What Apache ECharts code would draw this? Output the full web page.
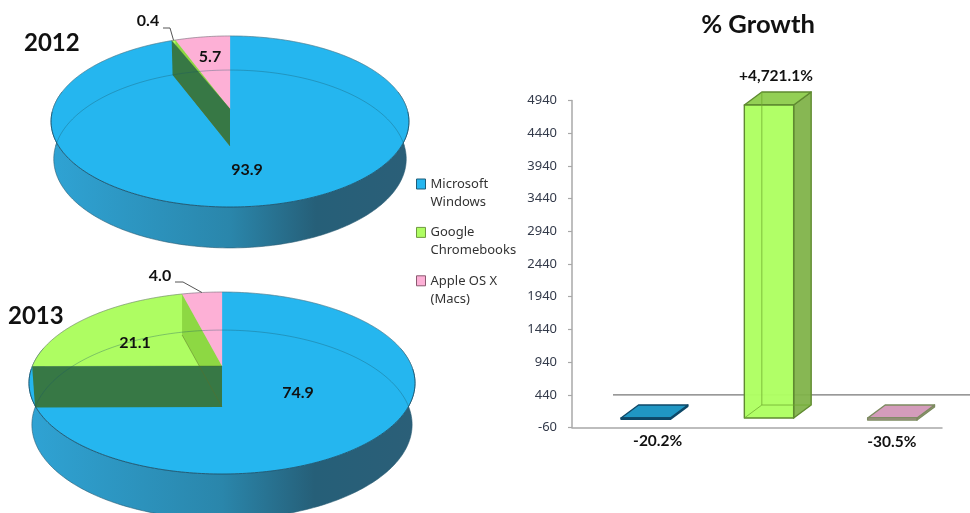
<!DOCTYPE html>
<html>
<head>
<meta charset="utf-8">
<style>html,body{margin:0;padding:0;background:#fff}#c{width:970px;height:513px}</style>
<script src="https://cdn.jsdelivr.net/npm/echarts@6/dist/echarts.min.js"></script>
</head>
<body>
<div id="c"></div>
<script>
// ---- data ----
var years = ['2012', '2013'];
var osNames = ['Microsoft\nWindows', 'Google\nChromebooks', 'Apple OS X\n(Macs)'];
var windowsShare = [93.9, 74.9];
var chromeShare = [0.4, 21.1];
var appleShare = [5.7, 4.0];
var growthCategories = ['Microsoft Windows', 'Google Chromebooks', 'Apple OS X (Macs)'];
var growthValues = [-20.2, 4721.1, -30.5];
var growthLabels = ['-20.2%', '+4,721.1%', '-30.5%'];
var tickLabels = [-60, 440, 940, 1440, 1940, 2440, 2940, 3440, 3940, 4440, 4940];
var referenceLineValue = [440];

// ---- styling / layout ----
var FONT = 'Lato, "Open Sans", sans-serif';
var BLUE = '#25b6ef', GREEN = '#aefd62', PINK = '#fdb0d6';
var pieLayouts = [
  {cx: 230, cy: 109, R: 177, S: 83.7, k: 0.146, depth: 37,
   labels: [[247, 170], [148, 21], [210, 57]], leader: [[163, 28], [170, 28]], leaderOs: 1},
  {cx: 222, cy: 366, R: 189.6, S: 87.8, k: 0.187, depth: 41,
   labels: [[298, 393], [135, 343], [160, 276]], leader: [[175, 282], [183, 282]], leaderOs: 2}
];
var shares = [windowsShare, chromeShare, appleShare];
var BX = 0.985, BY = 1.04;
var barLabelShift = [24, 19, 11.5];

function proj(L, deg, bottom) {
  var t = deg * Math.PI / 180, u = Math.sin(t), v = -Math.cos(t), w = 1 - L.k * v;
  if (bottom) return [L.cx + BX * L.R * u / w, L.cy + L.depth + BY * L.S * v / w];
  return [L.cx + L.R * u / w, L.cy + L.S * v / w];
}
function arc(L, a, b, bottom) {
  var pts = [], n = Math.max(2, Math.ceil(Math.abs(b - a)));
  for (var i = 0; i <= n; i++) pts.push(proj(L, a + (b - a) * i / n, bottom));
  return pts;
}
function startAngle(os, p) {
  var s = 0;
  for (var i = 0; i < os; i++) s += shares[i][p];
  return s * 3.6;
}
function sliceSeries(os, color) {
  return {
    type: 'custom', name: osNames[os], coordinateSystem: 'none', silent: true, z: 2,
    data: years.map(function (y, p) { return [p, shares[os][p]]; }),
    renderItem: function (params, api) {
      var p = api.value(0), L = pieLayouts[p], a = startAngle(os, p), b = a + api.value(1) * 3.6;
      return {type: 'polygon', shape: {points: [[L.cx, L.cy]].concat(arc(L, a, b))},
        style: {fill: color, stroke: color, lineWidth: 0.3}};
    }
  };
}
var rimSeries = {
  type: 'custom', coordinateSystem: 'none', silent: true, z: 1,
  data: years.map(function (y, p) { return [p]; }),
  renderItem: function (params, api) {
    var L = pieLayouts[api.value(0)];
    return {type: 'polygon',
      shape: {points: arc(L, 78, 282).concat(arc(L, 282, 78, true))},
      style: {fill: new echarts.graphic.LinearGradient(1, 0, 0, 0, [
        {offset: 0, color: '#2b5f78'}, {offset: 0.26, color: '#265f78'},
        {offset: 0.5, color: '#2a86ab'}, {offset: 1, color: '#2fa3d4'}]),
        stroke: '#2a5c74', lineWidth: 0.6}};
  }
};
var wallSeries = {
  type: 'custom', coordinateSystem: 'none', silent: true, z: 3,
  data: years.map(function (y, p) { return [p, windowsShare[p], chromeShare[p]]; }),
  renderItem: function (params, api) {
    var L = pieLayouts[api.value(0)];
    var a1 = api.value(1) * 3.6, a2 = a1 + api.value(2) * 3.6;
    var apexT = [L.cx, L.cy], apexB = [L.cx, L.cy + L.depth];
    var kids = [];
    function wallB(a) { return [proj(L, a)[0] , proj(L, a)[1] + L.depth]; }
    kids.push({type: 'polygon', shape: {points: [proj(L, a2), apexT, apexB, wallB(a2)]},
      style: {fill: 'rgba(95,165,25,0.42)'}});
    kids.push({type: 'polygon', shape: {points: [proj(L, a1), apexT, apexB, proj(L, a1, true)]},
      style: {fill: '#377845'}});
    kids.push({type: 'polyline', shape: {points: [wallB(a2), apexB]},
      style: {fill: null, stroke: 'rgba(90,110,40,0.6)', lineWidth: 0.8}});
    kids.push({type: 'polyline', shape: {points: [apexT, proj(L, a1)]},
      style: {fill: null, stroke: 'rgba(60,100,40,0.5)', lineWidth: 0.8}});
    // far edge of the base seen through the disc
    kids.push({type: 'polyline', shape: {points: arc(L, -90, 90, true)},
      style: {fill: null, stroke: 'rgba(25,85,100,0.38)', lineWidth: 0.9}});
    // outline of the top face
    kids.push({type: 'polyline', shape: {points: arc(L, 92, 268)},
      style: {fill: null, stroke: '#1f4a60', lineWidth: 0.8}});
    kids.push({type: 'polyline', shape: {points: arc(L, -92, 92)},
      style: {fill: null, stroke: 'rgba(90,100,105,0.7)', lineWidth: 0.7}});
    return {type: 'group', children: kids};
  }
};
var pieLabelSeries = {
  type: 'custom', coordinateSystem: 'none', silent: true, z: 5,
  data: years.map(function (y, p) { return [p]; }),
  renderItem: function (params, api) {
    var p = api.value(0), L = pieLayouts[p], kids = [];
    shares.forEach(function (arr, os) {
      kids.push({type: 'text', style: {text: arr[p].toFixed(1), x: L.labels[os][0], y: L.labels[os][1],
        fill: '#111', font: 'bold 16px ' + FONT, align: 'center', verticalAlign: 'middle'}});
    });
    var mid = startAngle(L.leaderOs, p) + shares[L.leaderOs][p] * 1.8;
    kids.push({type: 'polyline', shape: {points: L.leader.concat([proj(L, mid)])},
      style: {fill: null, stroke: '#555', lineWidth: 1}});
    return {type: 'group', children: kids};
  }
};

// ---- 3D bars ----
var barStyles = [
  {front: '#2097c4', side: '#1a6f92', top: '#2097c4', line: '#0e4868', inner: 'rgba(14,72,104,0)'},
  {front: 'rgba(174,255,98,0.97)', side: 'rgba(127,178,72,0.94)', top: '#93cf55', line: '#5f8a30', inner: 'rgba(110,170,45,0.75)'},
  {front: '#d49cbb', side: '#a9a07f', top: '#d49cbb', line: '#7c8a60', inner: 'rgba(124,138,96,0)'}
];
var DX = 17.5, DY = -13, SHIFT = 12;
var barSeries = {
  type: 'custom', silent: true, xAxisIndex: 0, yAxisIndex: 1, z: 4, clip: false,
  encode: {x: 0, y: 1},
  data: growthCategories.map(function (c, i) { return [i, growthValues[i]]; }),
  renderItem: function (params, api) {
    var i = api.value(0), v = api.value(1), s = barStyles[i];
    var c0 = api.coord([i, 0]), c1 = api.coord([i, v]);
    var hw = api.size([1, 0])[0] * 0.2;
    var l = c0[0] + SHIFT - hw, r = c0[0] + SHIFT + hw;
    var top = Math.min(c0[1], c1[1]), bot = Math.max(c0[1], c1[1]);
    var st = function (fill) { return {fill: fill, stroke: s.line, lineWidth: 1.4, lineJoin: 'round'}; };
    var inner = function (pts) {
      return {type: 'polyline', shape: {points: pts}, style: {fill: null, stroke: s.inner, lineWidth: 1}};
    };
    return {type: 'group', children: [
      {type: 'polygon', shape: {points: [[r, top], [r + DX, top + DY], [r + DX, bot + DY], [r, bot]]}, style: st(s.side)},
      {type: 'polygon', shape: {points: [[l, top], [l + DX, top + DY], [r + DX, top + DY], [r, top]]}, style: st(s.top)},
      {type: 'polygon', shape: {points: [[l, top], [r, top], [r, bot], [l, bot]]}, style: st(s.front)},
      inner([[l + DX, top + DY], [l + DX, bot + DY], [r + DX, bot + DY]]),
      inner([[l, bot], [l + DX, bot + DY]])
    ]};
  }
};
var refLineSeries = {
  type: 'custom', silent: true, xAxisIndex: 0, yAxisIndex: 0, z: 3, clip: false,
  encode: {y: 1},
  data: referenceLineValue.map(function (v) { return [0, v]; }),
  renderItem: function (params, api) {
    var y = api.coord([0, api.value(1)])[1];
    return {type: 'line', shape: {x1: 613, y1: y, x2: 970, y2: y},
      style: {stroke: '#777', lineWidth: 1.2}};
  }
};
var barLabelSeries = {
  type: 'custom', silent: true, xAxisIndex: 0, yAxisIndex: 1, z: 6, clip: false,
  encode: {x: 0, y: 1},
  data: growthCategories.map(function (c, i) { return [i, growthValues[i]]; }),
  renderItem: function (params, api) {
    var i = api.value(0), v = api.value(1), c = api.coord([i, v]);
    var up = v > 0;
    return {type: 'text', style: {text: growthLabels[i], x: c[0] + barLabelShift[i], y: up ? c[1] - 29 : c[1] + 22,
      fill: '#111', font: 'bold 15.5px ' + FONT, align: 'center', verticalAlign: 'middle'}};
  }
};

var titleStyle = {fontFamily: FONT, fontWeight: 'bold', fontSize: 24, color: '#111'};
var option = {
  animation: false,
  backgroundColor: '#fff',
  title: [
    {text: '% Growth', left: 758, top: 12, textAlign: 'center', padding: 0,
     textStyle: {fontFamily: FONT, fontWeight: 'bold', fontSize: 25.6, color: '#111'}},
    {text: years[0], left: 24, top: 31, padding: 0, textStyle: titleStyle},
    {text: years[1], left: 8, top: 304, padding: 0, textStyle: titleStyle}
  ],
  legend: {
    orient: 'vertical', left: 416, top: 157, padding: 0, itemWidth: 9, itemHeight: 10, itemGap: -5.6,
    icon: 'rect', selectedMode: false,
    formatter: function (n) { return '\n' + n; },
    textStyle: {fontFamily: '"Noto Sans", sans-serif', fontSize: 13, color: '#333', lineHeight: 18},
    data: [
      {name: osNames[0], itemStyle: {color: BLUE, borderColor: '#1f5c78', borderWidth: 1}},
      {name: osNames[1], itemStyle: {color: GREEN, borderColor: '#6f9a40', borderWidth: 1}},
      {name: osNames[2], itemStyle: {color: PINK, borderColor: '#8a5a70', borderWidth: 1}}
    ]
  },
  grid: {left: 572, right: 28, top: 100.5, bottom: 85.5},
  xAxis: {
    type: 'category', data: growthCategories,
    axisLine: {onZero: false, lineStyle: {color: '#a8a8a8', width: 1.5}},
    axisTick: {show: false}, axisLabel: {show: false}, splitLine: {show: false}
  },
  yAxis: [
    {type: 'value', min: -60, max: 4940,
     axisLine: {show: true, onZero: false, lineStyle: {color: '#a8a8a8', width: 1.5}},
     axisTick: {show: true, length: 4, customValues: tickLabels, lineStyle: {color: '#a8a8a8', width: 1.2}},
     axisLabel: {customValues: tickLabels, margin: 15, formatter: function (v) { return String(v); },
       fontFamily: '"Noto Sans", sans-serif', fontSize: 13, color: '#333a4a'},
     splitLine: {show: false}},
    {type: 'value', show: false, min: -143, max: 4789, splitLine: {show: false}}
  ],
  series: [rimSeries, sliceSeries(0, BLUE), sliceSeries(1, GREEN), sliceSeries(2, PINK),
    wallSeries, pieLabelSeries, refLineSeries, barSeries, barLabelSeries]
};
var chart = echarts.init(document.getElementById('c'), null, {renderer: 'canvas', width: 970, height: 513});
chart.setOption(option);
</script>
</body>
</html>
